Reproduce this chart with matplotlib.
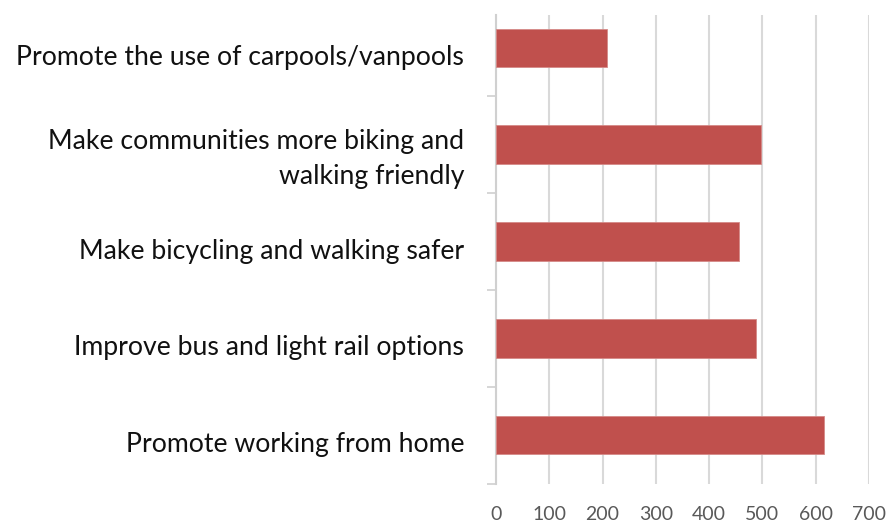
import matplotlib.pyplot as plt
import matplotlib.transforms as mtransforms
import numpy as np

# data (bottom to top, as drawn)
categories = [
    "Promote working from home",
    "Improve bus and light rail options",
    "Make bicycling and walking safer",
    "Make communities more biking and\nwalking friendly",
    "Promote the use of carpools/vanpools",
]
values = [615, 487, 456, 498, 209]
x_ticks = [0, 100, 200, 300, 400, 500, 600, 700]

plt.rcParams['font.family'] = ['Lato', 'DejaVu Sans']

fig = plt.figure(figsize=(8.87, 5.23), dpi=100)
W, H = 887, 523
ax = fig.add_axes([496 / W, 1 - 483.5 / H, (869 - 496) / W, (483.5 - 15) / H])

pos = np.arange(len(categories))
ax.barh(pos, values, height=0.4, color='#C0504D', edgecolor='#d58a88', linewidth=0.6, zorder=3)

ax.set_xlim(0, 700)
ax.set_ylim(-0.5, 4.34)

ax.set_xticks(x_ticks)
ax.set_xticklabels([str(t) for t in x_ticks], fontsize=14, color='#595959')
ax.tick_params(axis='x', length=0, pad=16)
ax.grid(axis='x', color='#d9d9d9', linewidth=1.5, zorder=0)

ax.set_yticks(pos)
ax.set_yticklabels(categories, fontsize=19.2, color='#111111', linespacing=1.5, ha='right')
ax.tick_params(axis='y', which='major', length=0, pad=23)
ax.set_yticks(list(pos[:-1] + 0.5) + [-0.5], minor=True)
ax.tick_params(axis='y', which='minor', length=6.5, width=1.2, color='#d0d0d0', direction='out')

# shift labels down a bit like in the original
off = mtransforms.ScaledTranslation(0, -7 / 100, fig.dpi_scale_trans)
for lbl in ax.get_yticklabels():
    lbl.set_transform(lbl.get_transform() + off)

for s in ['top', 'right', 'bottom']:
    ax.spines[s].set_visible(False)
ax.spines['left'].set_color('#d0d0d0')
ax.spines['left'].set_linewidth(1.5)

fig.savefig('out.png', dpi=100)
